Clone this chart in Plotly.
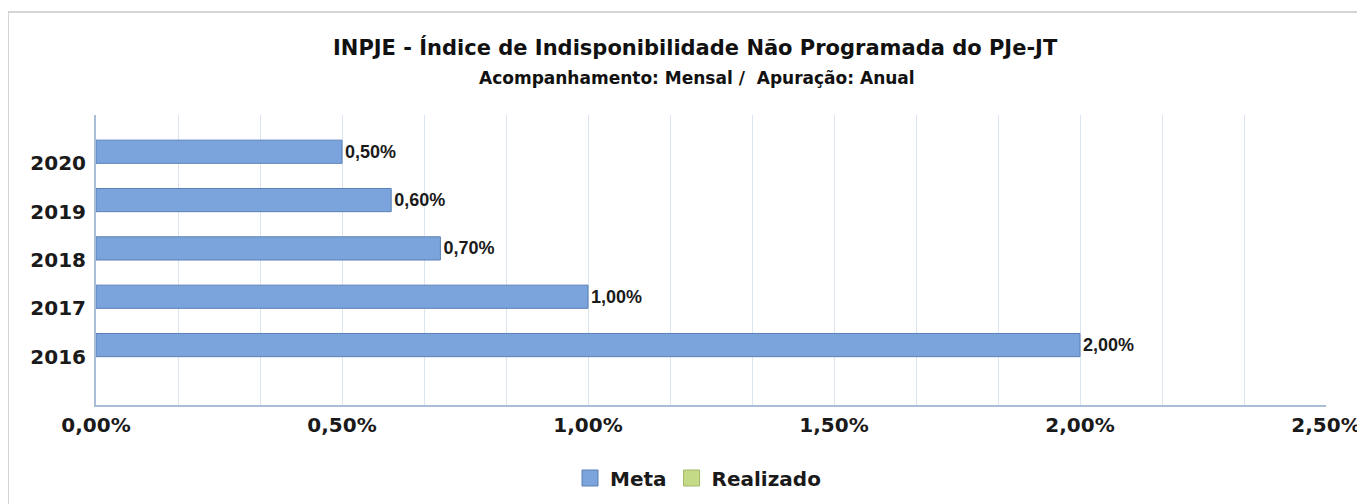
import plotly.graph_objects as go

years = ["2016", "2017", "2018", "2019", "2020"]
meta = [2.00, 1.00, 0.70, 0.60, 0.50]
realizado = [None, None, None, None, None]
meta_labels = ["2,00%", "1,00%", "0,70%", "0,60%", "0,50%"]
x_ticks = [0, 0.5, 1.0, 1.5, 2.0, 2.5]
x_tick_text = ["0,00%", "0,50%", "1,00%", "1,50%", "2,00%", "2,50%"]

META_COLOR, META_LINE = "#7ba4dc", "#5a80b6"
REAL_COLOR, REAL_LINE = "#c5da86", "#a3b86a"

OFF = 8  # page body margin
W, H = 1365 - OFF, 504 - OFF
L, T = 96 - OFF, 115 - OFF
R = W - (1326 - OFF)
B = H - (405 - OFF)
PW, PH = W - L - R, H - T - B

def px_x(x):
    return (x - OFF - L) / PW

def px_y(y):
    return (H - B - (y - OFF)) / PH

fig = go.Figure()
fig.add_trace(go.Bar(
    y=years, x=meta, orientation="h", name="Meta",
    marker=dict(color=META_COLOR, line=dict(color=META_LINE, width=1)),
    width=0.48, offset=0.0,
    text=["<b>%s</b>" % t for t in meta_labels], textposition="outside", cliponaxis=False,
    textfont=dict(family="Liberation Sans", size=18, color="#1a1a1a"),
    showlegend=False,
))
fig.add_trace(go.Bar(
    y=years, x=realizado, orientation="h", name="Realizado",
    marker=dict(color=REAL_COLOR, line=dict(color=REAL_LINE, width=1)),
    width=0.48, offset=-0.48,
    showlegend=False,
))
# legend entries (square swatches)
for nm, c, lc in [("Meta", META_COLOR, META_LINE), ("Realizado", REAL_COLOR, REAL_LINE)]:
    fig.add_trace(go.Scatter(
        x=[None], y=[None], mode="markers", name="<b>%s</b>" % nm,
        marker=dict(symbol="square", size=18, color=c, line=dict(color=lc, width=1)),
        showlegend=True,
    ))

fig.update_layout(
    width=W, height=H,
    margin=dict(l=L, r=R, t=T, b=B, autoexpand=False),
    paper_bgcolor="white", plot_bgcolor="white",
    barmode="overlay",
    separators=",.",
    showlegend=True,
    legend=dict(
        orientation="h", x=px_x(698), y=px_y(478), xanchor="center", yanchor="middle",
        font=dict(family="DejaVu Sans", size=20, color="#1a1a1a"),
        itemsizing="trace", itemwidth=30,
    ),
    font=dict(family="DejaVu Sans", color="#1a1a1a"),
)

fig.update_xaxes(
    range=[0, 2.5], tickvals=x_ticks, ticktext=["<b>%s</b>" % t for t in x_tick_text],
    tickfont=dict(family="DejaVu Sans", size=20, color="#1a1a1a"),
    showgrid=True, gridcolor="#dbe5f1", gridwidth=1,
    minor=dict(dtick=0.5 / 3, showgrid=True, gridcolor="#dbe5f1", gridwidth=1, tick0=0),
    showline=True, linecolor="#aabdd7", linewidth=2,
    zeroline=False, ticks="", ticklabelstandoff=1,
    fixedrange=True,
)
fig.update_yaxes(
    type="category", categoryorder="array", categoryarray=years,
    tickvals=years, ticktext=["<b>%s</b>" % y for y in years],
    range=[-1, 5],
    tickfont=dict(family="DejaVu Sans", size=20, color="#1a1a1a"),
    showgrid=False, showline=True, linecolor="#aabdd7", linewidth=2,
    ticks="", ticklabelstandoff=4,
    fixedrange=True,
)

# outer frame
fig.add_shape(type="rect", xref="paper", yref="paper",
              x0=px_x(8), x1=px_x(1380), y0=px_y(530), y1=px_y(12),
              line=dict(color="#c8c8c8", width=1.5), fillcolor="rgba(0,0,0,0)", layer="below")

fig.add_annotation(
    text="<b>INPJE - Índice de Indisponibilidade Não Programada do PJe-JT</b>",
    xref="paper", yref="paper", x=px_x(695), y=px_y(47),
    xanchor="center", yanchor="middle", showarrow=False,
    font=dict(family="DejaVu Sans", size=21, color="#111111"),
)
fig.add_annotation(
    text="<b>Acompanhamento: Mensal /  Apuração: Anual</b>",
    xref="paper", yref="paper", x=px_x(697), y=px_y(78),
    xanchor="center", yanchor="middle", showarrow=False,
    font=dict(family="DejaVu Sans", size=17, color="#111111"),
)

fig.write_html("out.html")
